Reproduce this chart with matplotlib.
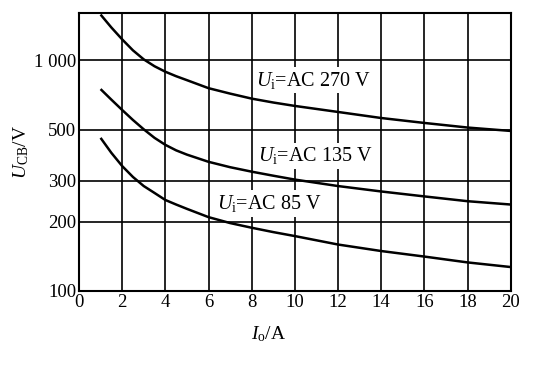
import matplotlib
matplotlib.use("Agg")
import matplotlib.pyplot as plt

plt.rcParams['font.family'] = ['Liberation Serif', 'DejaVu Serif']
plt.rcParams['mathtext.fontset'] = 'custom'
plt.rcParams['mathtext.rm'] = 'Liberation Serif'
plt.rcParams['mathtext.it'] = 'Liberation Serif:italic'

# data
io_a = [1, 1.5, 2, 2.5, 3, 3.5, 4, 4.5, 5, 6, 7, 8, 9, 10, 12, 14, 16, 18, 20]
u_270 = [1578, 1387, 1232, 1104, 1009, 942, 892, 853, 820, 757, 717, 682, 656, 634, 597, 562, 535, 511, 494]
u_135 = [750, 675, 609, 551, 502, 461, 430, 407, 390, 363, 344, 329, 316, 304, 285, 270, 257, 245, 237]
u_85 = [461, 397, 348, 312, 285, 266, 248, 237, 227, 209, 197, 188, 180, 173, 159, 149, 141, 133, 127]

labels = [r'$U_{\rm i}$=AC 270 V', r'$U_{\rm i}$=AC 135 V', r'$U_{\rm i}$=AC 85 V']
label_pos = [(8.2, 820), (8.3, 385), (6.4, 239)]

x_ticks = list(range(0, 21, 2))
y_ticks = [100, 200, 300, 500, 1000]
y_tick_labels = ['100', '200', '300', '500', '1 000']

fig = plt.figure(figsize=(5.5, 3.67), dpi=100)
ax = fig.add_axes([0.1436, 0.2071, 0.785, 0.757])

for ys in (u_270, u_135, u_85):
    ax.plot(io_a, ys, color='black', lw=1.8, solid_capstyle='butt',
            solid_joinstyle='round')

for (lx, ly), t in zip(label_pos, labels):
    ax.text(lx, ly, t, fontsize=14.5, ha='left', va='center', color='black',
            bbox=dict(facecolor='white', edgecolor='none', pad=2))

ax.set_yscale('log')
ax.set_xlim(0, 20)
ax.set_ylim(100, 1600)
ax.set_xticks(x_ticks)
ax.set_xticklabels([str(v) for v in x_ticks])
ax.set_yticks(y_ticks)
ax.set_yticklabels(y_tick_labels)
ax.minorticks_off()
ax.tick_params(axis='both', length=0, labelsize=13.5, pad=2)
ax.grid(True, color='black', lw=1.2)
ax.set_axisbelow(True)
for s in ax.spines.values():
    s.set_linewidth(1.5)
    s.set_color('black')

ax.set_xlabel(r'$I_{\rm o}$/A', fontsize=14, labelpad=5)
ax.xaxis.set_label_coords(0.44, -0.12)
ax.set_ylabel(r'$U_{\rm CB}$/V', fontsize=14, labelpad=2)

fig.savefig('out.png', dpi=100)
